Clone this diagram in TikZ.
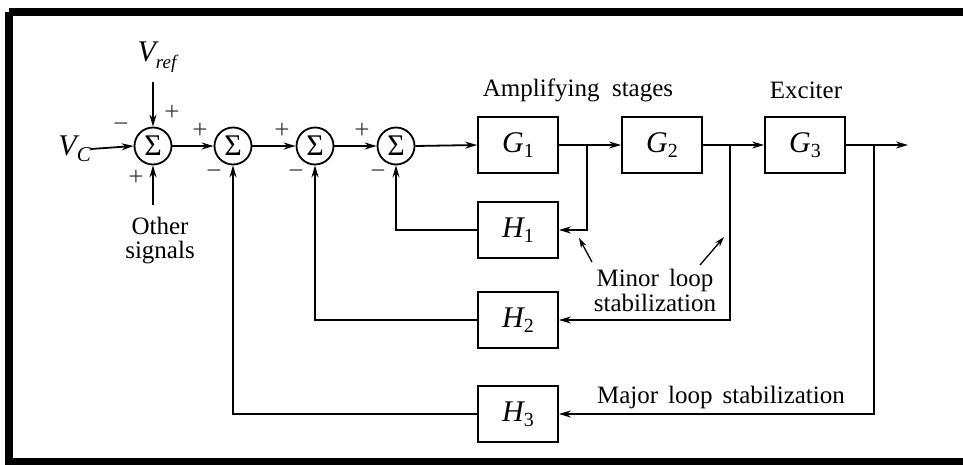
\documentclass[tikz,border=0pt]{standalone}
\usepackage{fontspec}
\setmainfont{Liberation Serif}
\usetikzlibrary{arrows.meta}
\tikzset{
  sumnode/.style={circle,draw,line width=1.8pt,minimum size=37pt,inner sep=0pt,font=\fontsize{30}{30}\selectfont},
  blk/.style={draw,line width=1.8pt,minimum width=80pt,minimum height=56pt,inner sep=0pt,font=\fontsize{30}{30}\selectfont\itshape},
  sig/.style={line width=1.8pt,-{Stealth[length=12pt,width=7pt]}},
  pointer/.style={line width=1.3pt,-{Stealth[length=10pt,width=6pt]}},
  lbl/.style={font=\fontsize{25}{27}\selectfont,inner sep=0pt},
  sgn/.style={font=\fontsize{27}{27}\selectfont,inner sep=0pt,text=black!75}
}
\newcommand{\sbs}[1]{\raisebox{-0.35ex}{\fontsize{20}{20}\selectfont\upshape #1}}
\begin{document}
\begin{tikzpicture}[x=1pt,y=-1pt]
\useasboundingbox (0,0) rectangle (963,465);
\begin{scope}
\clip (0,0) rectangle (963,465);
\draw[line width=8pt] (9,12) -- (1000,12);
\draw[line width=8pt] (9,12) -- (9,461.5) -- (1000,461.5);
\end{scope}
% summing junctions
\node[sumnode] (s1) at (153,146) {Σ};
\node[sumnode] (s2) at (233,146) {Σ};
\node[sumnode] (s3) at (315,146) {Σ};
\node[sumnode] (s4) at (396,146) {Σ};
% blocks
\node[blk] (g1) at (518,145) {G\sbs{1}};
\node[blk] (g2) at (662,145) {G\sbs{2}};
\node[blk] (g3) at (805,145) {G\sbs{3}};
\node[blk] (h1) at (518,230) {H\sbs{1}};
\node[blk] (h2) at (518,320) {H\sbs{2}};
\node[blk] (h3) at (518,414) {H\sbs{3}};
% inputs
\node[lbl,anchor=east] (vc) at (91,149) {\fontsize{30}{30}\selectfont\itshape V\raisebox{-0.4ex}{\fontsize{21}{21}\selectfont C}};
\node[lbl] (vref) at (157,57) {\fontsize{30}{30}\selectfont\itshape V\raisebox{-0.55ex}{\fontsize{19}{19}\selectfont ref}};
\coordinate (vreftop) at (153,82);
\node[lbl,align=center] (other) at (160,241) {Other\\[-3pt]signals};
\coordinate (othtop) at (153,205);
\coordinate (out) at (908,145);
% forward path
\draw[sig] (vc.east) -- (s1.west);
\draw[sig] (vreftop) -- (s1.north);
\draw[sig] (othtop) -- (s1.south);
\draw[sig] (s1.east) -- (s2.west);
\draw[sig] (s2.east) -- (s3.west);
\draw[sig] (s3.east) -- (s4.west);
\draw[sig] (s4.east) -- (g1.west);
\draw[sig] (g1.east) -- (g2.west);
\draw[sig] (g2.east) -- (g3.west);
\draw[sig] (g3.east) -- (out);
% branch points
\coordinate (b1) at (587,145);
\coordinate (b2) at (730,145);
\coordinate (b3) at (874,145);
% feedback
\draw[sig] (b1) |- (h1.east);
\draw[sig] (h1.west) -| (s4.south);
\draw[sig] (b2) |- (h2.east);
\draw[sig] (h2.west) -| (s3.south);
\draw[sig] (b3) |- (h3.east);
\draw[sig] (h3.west) -| (s2.south);
% signs
\node[sgn] (p1a) at (121,128) {−};
\node[sgn] (p1b) at (172,113) {+};
\node[sgn] (p1c) at (136,178) {+};
\node[sgn] (p2a) at (200,131) {+};
\node[sgn] (p2b) at (214,175) {−};
\node[sgn] (p3a) at (282,131) {+};
\node[sgn] (p3b) at (296,175) {−};
\node[sgn] (p4a) at (362,131) {+};
\node[sgn] (p4b) at (378,175) {−};
% labels
\node[lbl] (amp) at (578,90) {Amplifying\hspace{0.5em}stages};
\node[lbl] (exc) at (806,90) {Exciter};
\node[lbl,align=center] (minor) at (655,290) {Minor\hspace{0.4em}loop\\[-2pt]stabilization};
\node[lbl] (major) at (721,397) {Major\hspace{0.4em}loop\hspace{0.4em}stabilization};
\coordinate (m1s) at (592,262);
\coordinate (m1e) at (579,238);
\coordinate (m2s) at (700,265);
\coordinate (m2e) at (724,237);
\draw[pointer] (m1s) -- (m1e);
\draw[pointer] (m2s) -- (m2e);
\end{tikzpicture}
\end{document}
